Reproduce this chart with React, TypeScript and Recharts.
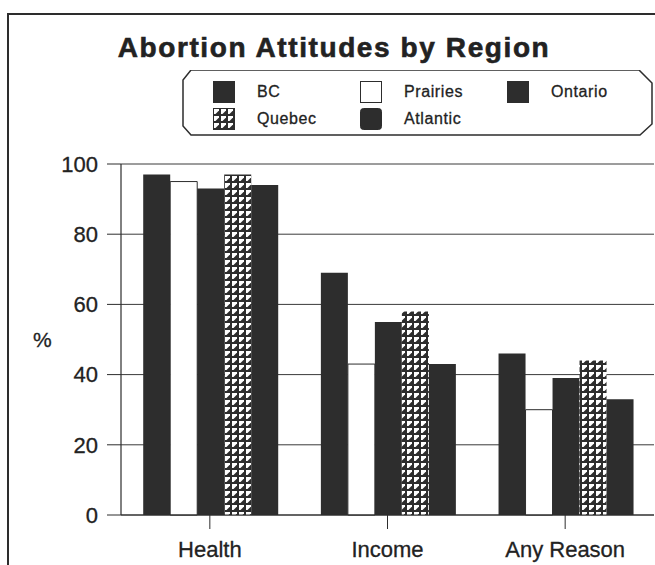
import { BarChart, Bar, XAxis, YAxis, CartesianGrid, Legend } from "recharts";

const categories = ["Health", "Income", "Any Reason"];
const regions = ["BC", "Prairies", "Ontario", "Quebec", "Atlantic"];
const bcValues = [97, 69, 46];
const prairiesValues = [95, 43, 30];
const ontarioValues = [93, 55, 39];
const quebecValues = [97, 58, 44];
const atlanticValues = [94, 43, 33];
const yTicks = [0, 20, 40, 60, 80, 100];

const data = categories.map((category, i) => ({
  category,
  BC: bcValues[i],
  Prairies: prairiesValues[i],
  Ontario: ontarioValues[i],
  Quebec: quebecValues[i],
  Atlantic: atlanticValues[i],
}));

const ink = "#2d2d2d";
const font = "'Liberation Sans', Arial, Helvetica, sans-serif";

const fills: Record<string, string> = {
  BC: ink,
  Prairies: "#ffffff",
  Ontario: ink,
  Quebec: "url(#quebecPattern)",
  Atlantic: ink,
};

function Swatch({ name }: { name: string }) {
  return (
    <svg width={22} height={22} style={{ display: "block" }}>
      <rect
        x={0.5}
        y={0.5}
        width={21}
        height={21}
        rx={name === "Atlantic" ? 3 : 0}
        fill={fills[name]}
        stroke={ink}
        strokeWidth={1}
      />
    </svg>
  );
}

function LegendBox() {
  const w = 471;
  const h = 66;
  const pts = `9,0 ${w - 14},0 ${w - 1},13 ${w - 1},${h - 12} ${w - 13},${h - 1} 9,${h - 1} 1,${h - 10} 1,10`;
  return (
    <div style={{ position: "relative", width: w, height: h }}>
      <svg width={w} height={h} style={{ position: "absolute", left: 0, top: 0 }}>
        <polygon points={pts} fill="#fff" stroke={ink} strokeWidth={1.5} />
      </svg>
      {regions.map((name, i) => {
        const col = i % 3;
        const row = Math.floor(i / 3);
        return (
          <div
            key={name}
            style={{
              position: "absolute",
              left: 31 + col * 147,
              top: 11 + row * 27,
              display: "flex",
              alignItems: "center",
              gap: 22,
              fontFamily: font,
              fontSize: 16,
              color: "#222",
              letterSpacing: 0.6,
              lineHeight: "22px",
              WebkitTextStroke: "0.3px #222",
            }}
          >
            <Swatch name={name} />
            <span>{name}</span>
          </div>
        );
      })}
    </div>
  );
}

const tickStyle = {
  fontSize: 22,
  fill: "#222",
  fontFamily: font,
  stroke: "#222",
  strokeWidth: 0.3,
};

export default function App() {
  return (
    <div style={{ position: "relative", width: 655, height: 565, background: "#fff" }}>
      <style>{`body{margin:0;background:#fff}`}</style>
      <div
        style={{
          position: "absolute",
          left: 7,
          top: 13,
          width: 648,
          height: 552,
          borderLeft: `2px solid ${ink}`,
          borderTop: `2px solid ${ink}`,
          boxSizing: "border-box",
        }}
      />
      <div
        style={{
          position: "absolute",
          left: 0,
          top: 32,
          width: 668,
          textAlign: "center",
          fontFamily: font,
          fontWeight: "bold",
          fontSize: 28,
          letterSpacing: 1.6,
          lineHeight: "32px",
          color: "#222",
          WebkitTextStroke: "0.6px #222",
          zIndex: 2,
        }}
      >
        Abortion Attitudes by Region
      </div>
      <BarChart
        width={655}
        height={565}
        data={data}
        margin={{ top: 164, right: 1, bottom: 20, left: 0 }}
        barCategoryGap="12.5%"
        barGap={0}
      >
        <defs>
          <pattern id="quebecPattern" width={7} height={7} patternUnits="userSpaceOnUse">
            <rect width={7} height={7} fill={ink} />
            <polygon points="1,1 6,1 6,2.5 2.5,6 1,6" fill="#fff" />
          </pattern>
        </defs>
        <CartesianGrid vertical={false} stroke="#3a3a3a" strokeWidth={1} />
        <XAxis
          dataKey="category"
          tickSize={14}
          tickMargin={12}
          axisLine={{ stroke: ink, strokeWidth: 1.2 }}
          tickLine={{ stroke: ink }}
          tick={tickStyle}
        />
        <YAxis
          width={121}
          domain={[0, 100]}
          ticks={yTicks}
          tickSize={14}
          tickMargin={9}
          axisLine={{ stroke: ink, strokeWidth: 1.2 }}
          tickLine={{ stroke: ink }}
          tick={tickStyle}
          label={{
            value: "%",
            position: "insideLeft",
            offset: 33,
            style: { ...tickStyle, fontSize: 21 },
          }}
        />
        <Legend
          layout="horizontal"
          verticalAlign="middle"
          align="center"
          content={() => <LegendBox />}
          wrapperStyle={{ position: "absolute", left: 182, top: 70, width: 471, height: 66 }}
        />
        {regions.map((name) => (
          <Bar
            key={name}
            dataKey={name}
            fill={fills[name]}
            stroke={name === "Prairies" ? ink : "none"}
            strokeWidth={1}
            isAnimationActive={false}
          />
        ))}
      </BarChart>
    </div>
  );
}
